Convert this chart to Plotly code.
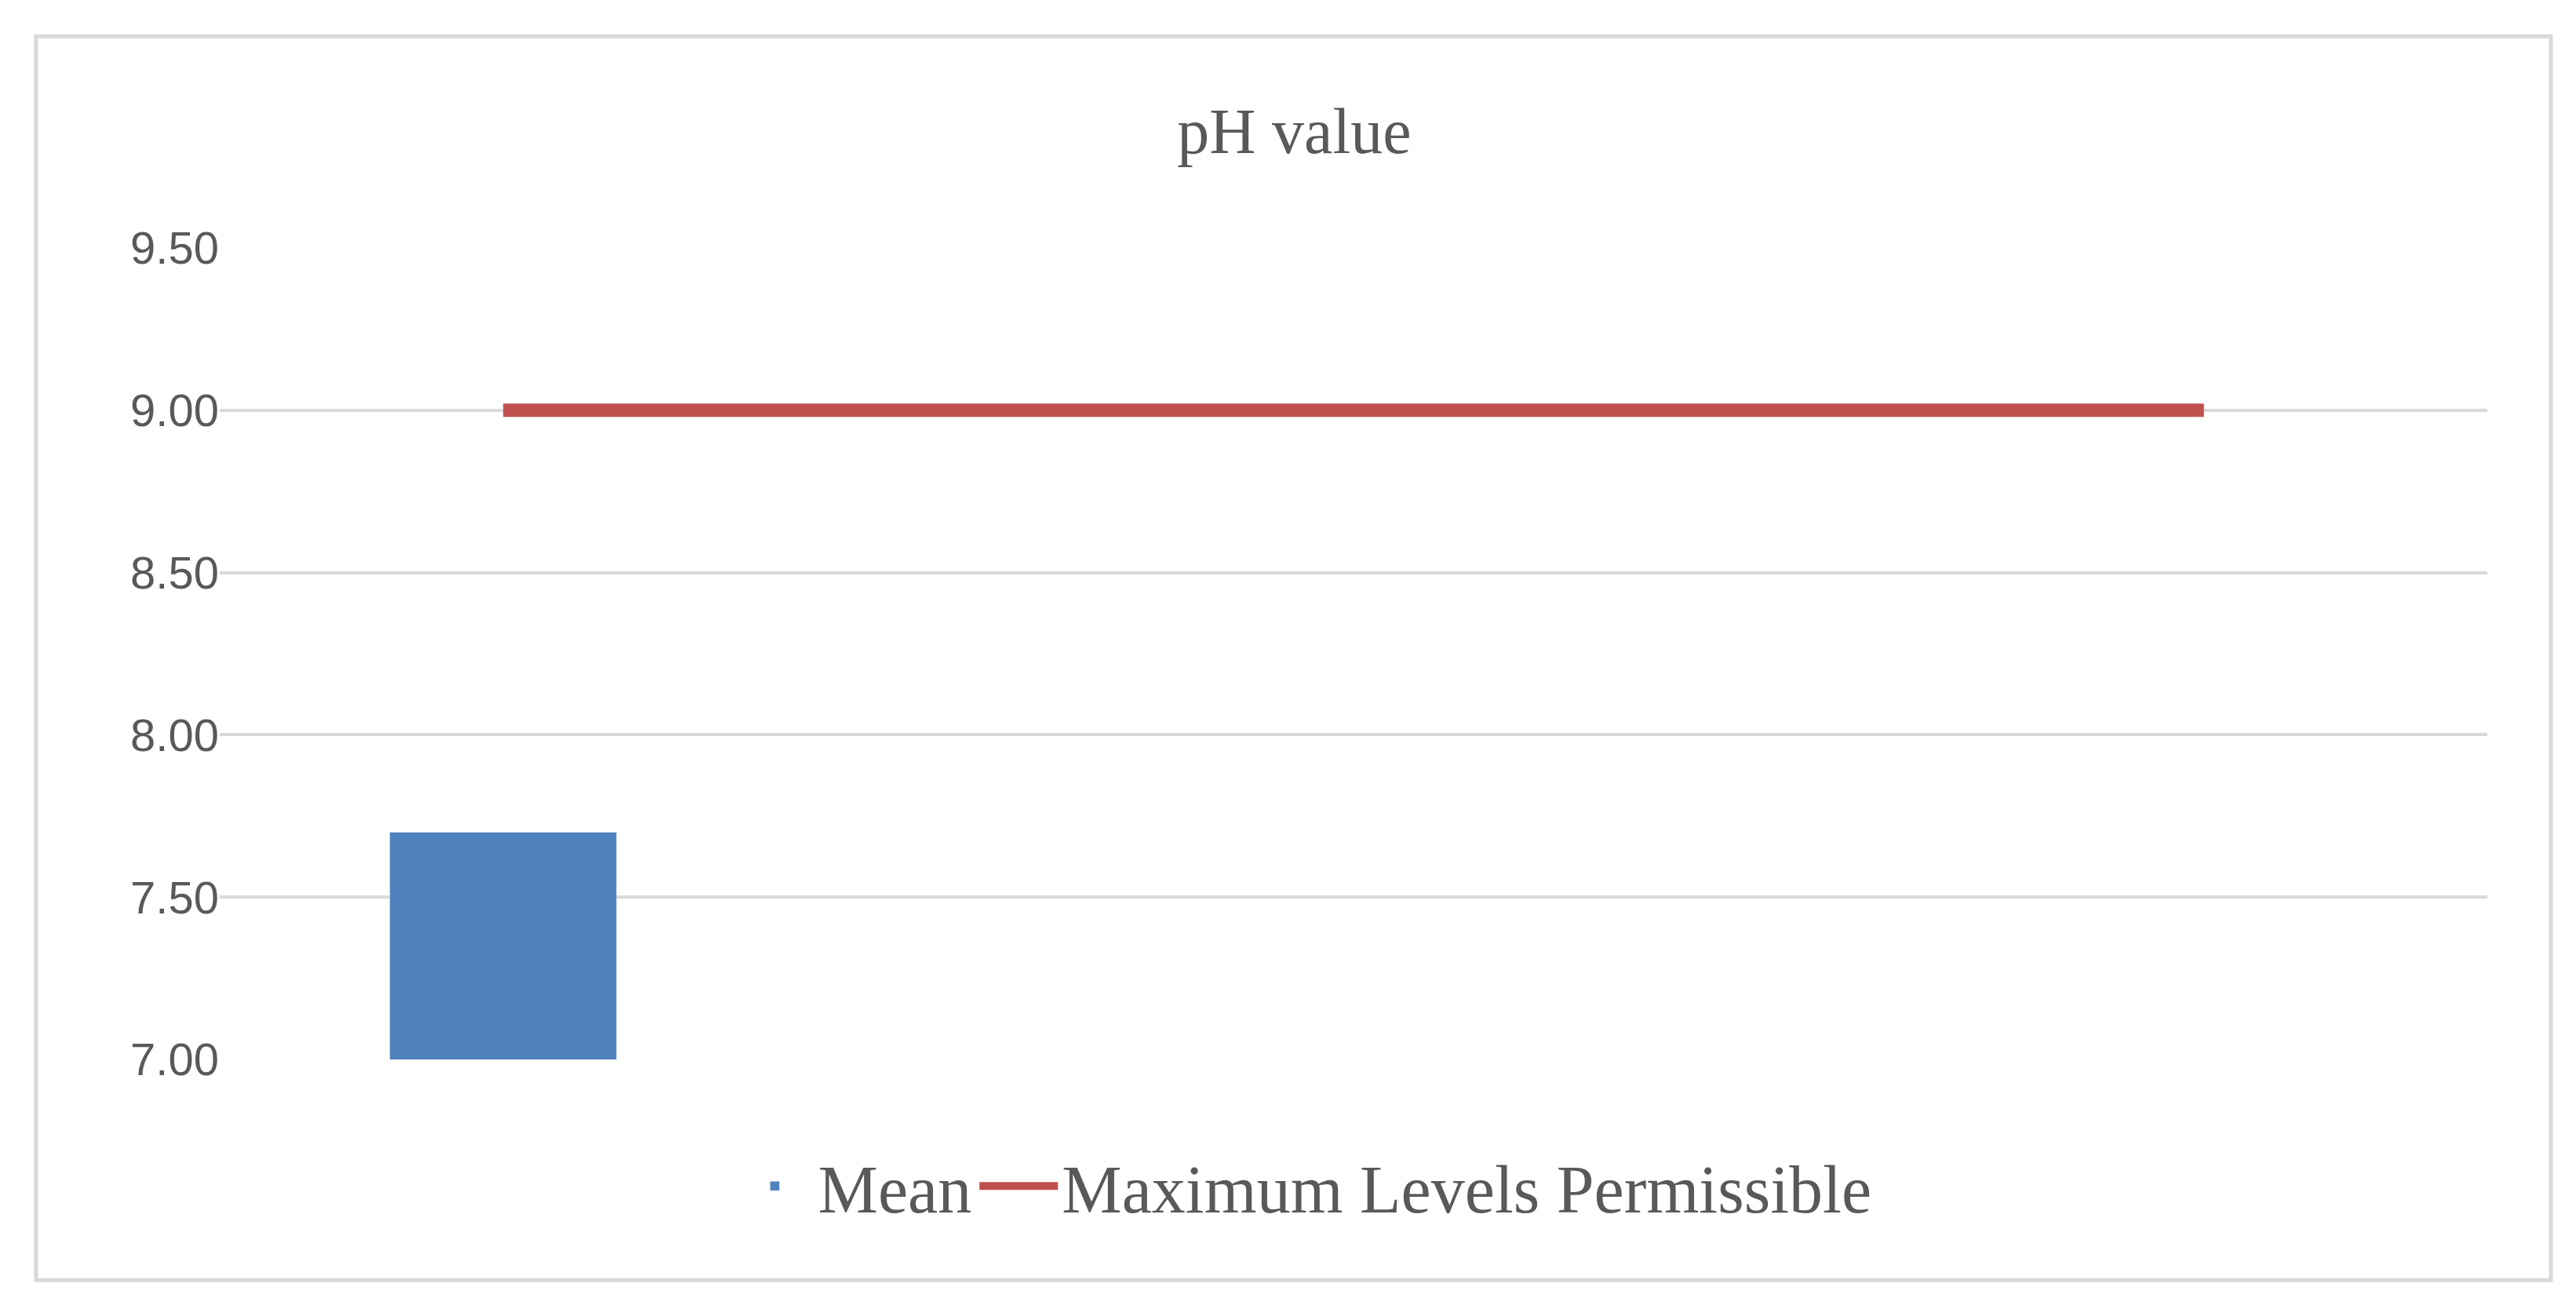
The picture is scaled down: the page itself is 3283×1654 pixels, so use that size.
import plotly.graph_objects as go

categories = ["1", "2", "3", "4"]
mean_values = [7.7, None, None, None]
max_levels = [9.0, 9.0, 9.0, 9.0]
tick_vals = [7.0, 7.5, 8.0, 8.5, 9.0, 9.5]

fig = go.Figure()
fig.add_trace(go.Bar(x=categories, y=mean_values, name="Mean", marker_color="#4F81BD",
                     width=0.4, base=0))
fig.add_trace(go.Scatter(x=categories, y=max_levels, name="Maximum Levels Permissible",
                         mode="lines", line=dict(color="#C0504D", width=17)))

fig.update_layout(
    width=3283, height=1654,
    paper_bgcolor="white", plot_bgcolor="white",
    margin=dict(l=272, r=121, t=308, b=312),
    title=dict(text="pH value", x=0.5, xanchor="center", y=0.904, yanchor="middle",
               font=dict(family="Liberation Serif", size=82, color="#595959")),
    showlegend=True,
    legend=dict(orientation="h", x=0.478, xanchor="center", y=-0.156, yanchor="middle",
                font=dict(family="Liberation Serif", size=86, color="#595959"),
                itemwidth=100, traceorder="normal"),
    shapes=[dict(type="rect", xref="paper", yref="paper", x0=-0.081, x1=1.028,
                 y0=-0.272, y1=1.261, line=dict(color="#D9D9D9", width=5))],
)
fig.update_xaxes(showticklabels=False, showgrid=False, zeroline=False, showline=False,
                 ticks="")
fig.update_yaxes(range=[7.0, 9.5], tickvals=tick_vals, tickformat=".2f",
                 showgrid=True, gridcolor="#D9D9D9", gridwidth=4, zeroline=False,
                 ticks="", ticklen=0,
                 tickfont=dict(family="Liberation Sans", size=58, color="#595959"))
fig.write_html("out.html")
